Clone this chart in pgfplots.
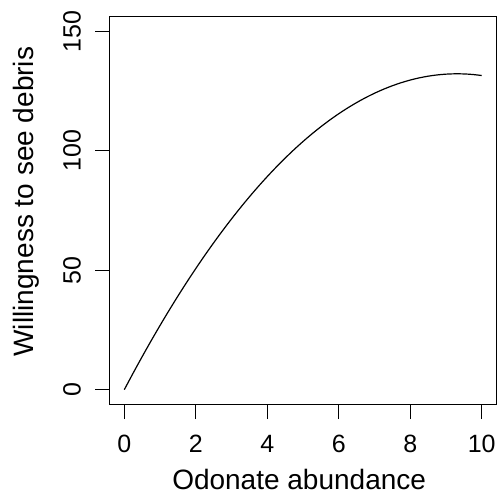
\documentclass[border=0pt]{standalone}
\usepackage{fontspec}
\setmainfont{Liberation Sans}
\usepackage{pgfplots}
\pgfplotsset{compat=1.18}

% fitted response curve
\pgfplotstableread{
x y
0 0
0.25 7.005
0.5 13.819
0.75 20.442
1 26.875
1.25 33.117
1.5 39.169
1.75 45.030
2 50.7
2.25 56.180
2.5 61.469
2.75 66.567
3 71.475
3.25 76.192
3.5 80.719
3.75 85.055
4 89.2
4.25 93.155
4.5 96.919
4.75 100.492
5 103.875
5.25 107.067
5.5 110.069
5.75 112.880
6 115.5
6.25 117.930
6.5 120.169
6.75 122.217
7 124.075
7.25 125.742
7.5 127.219
7.75 128.505
8 129.6
8.25 130.505
8.5 131.219
8.75 131.742
9 132.075
9.25 132.217
9.5 132.169
9.75 131.930
10 131.5
}\curvedata

\begin{document}
\begin{tikzpicture}
\begin{axis}[
  scale only axis, width=386pt, height=387pt,
  xmin=-0.4, xmax=10.4, ymin=-6, ymax=156,
  xtick={0,2,...,10}, ytick={0,50,100,150},
  xtick pos=left, ytick pos=left,
  tick align=outside, major tick length=15pt,
  every tick/.style={black, line width=1pt},
  axis line style={line width=1pt},
  /pgf/number format/assume math mode=true,
  ticklabel style={font=\fontsize{25}{30}\selectfont, inner sep=0pt},
  xticklabel style={anchor=north},
  yticklabel style={rotate=90, anchor=south},
  xticklabel shift=16pt, yticklabel shift=14pt,
  label style={font=\fontsize{28}{34}\selectfont},
  xlabel={Odonate abundance},
  ylabel={Willingness to see debris},
  xlabel style={at={(axis description cs:0.49,-0.195)}, anchor=center},
  ylabel style={at={(axis description cs:-0.2176,0.523)}, anchor=center, rotate=0},
]
\addplot[black, line width=1.2pt, smooth] table {\curvedata};
\end{axis}
\path (current axis.south west) ++(-110pt,-91pt) (current axis.north east) ++(6pt,17pt);
\end{tikzpicture}
\end{document}
